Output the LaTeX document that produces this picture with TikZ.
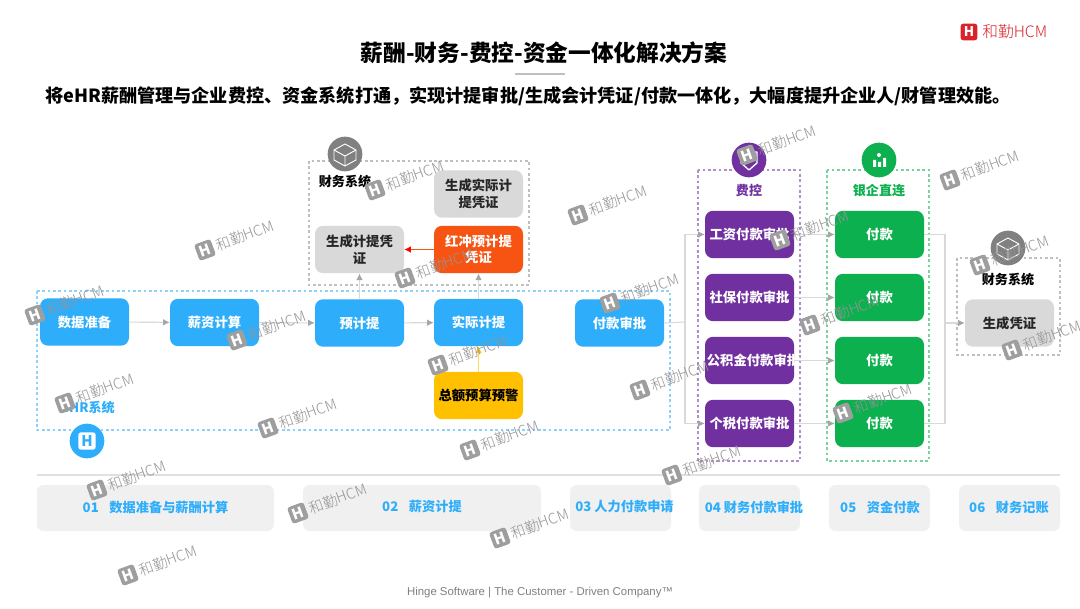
\documentclass[tikz,border=0pt]{standalone}
\usepackage{fontspec}
\setmainfont{Noto Sans CJK SC}
\newfontfamily\latinfoot{Liberation Sans}
\newfontfamily\wmfont{Noto Sans CJK SC Light}
\usetikzlibrary{arrows.meta,calc}
\definecolor{hrblue}{HTML}{2EAEFA}
\definecolor{purplebox}{HTML}{7030A0}
\definecolor{greenbox}{HTML}{0CB04F}
\definecolor{greybox}{HTML}{D9D9D9}
\definecolor{redbox}{HTML}{F75413}
\definecolor{yellowbox}{HTML}{FFC000}
\definecolor{logored}{HTML}{D8232A}
\definecolor{linegrey}{HTML}{D9D9D9}
\definecolor{tipgrey}{HTML}{A6A6A6}
\newcommand{\pxfont}[1]{\fontsize{#1}{\dimexpr #1pt*5/4\relax}\selectfont}
\tikzset{
  flowbox/.style={rounded corners=6pt,minimum width=66.75pt,minimum height=35.5pt,align=center,inner sep=1pt,text width=64pt,font=\pxfont{10}\bfseries},
  bluebox/.style={flowbox,fill=hrblue,text=white},
  purbox/.style={flowbox,fill=purplebox,text=white},
  grnbox/.style={flowbox,fill=greenbox,text=white},
  grybox/.style={flowbox,fill=greybox,text=black!85},
  redfill/.style={flowbox,fill=redbox,text=white},
  ylwbox/.style={flowbox,fill=yellowbox,text=black},
  conn/.style={draw=linegrey,line width=.8pt,-{Latex[length=5pt,width=5pt,color=tipgrey]}},
  plain/.style={draw=linegrey,line width=.8pt},
  dotbox/.style={draw=#1,line width=1pt,dash pattern=on 2pt off 2pt},
  stage/.style={fill=black!6,rounded corners=5pt,minimum height=34.5pt,inner sep=0pt},
  stagetext/.style={text=hrblue,font=\pxfont{9.9}\bfseries,inner sep=0pt},
  badge/.style={circle,minimum size=26pt,inner sep=0pt},
  syslabel/.style={font=\pxfont{9.8}\bfseries,inner sep=0pt},
  wmicon/.style={fill=black!38,rounded corners=2pt,minimum size=13pt,inner sep=0pt,text=white,font=\pxfont{11}\bfseries},
  wmtext/.style={text=black!42,font=\wmfont\pxfont{11},inner sep=0pt,anchor=west},
}
\newcommand{\wmark}[3]{\begin{scope}[shift={(#2,#3)},rotate=20,transform shape]
  \node[wmicon] (#1i) at (0,0) {H};
  \node[wmtext] (#1t) at (12,0) {和勤HCM};
\end{scope}}
\begin{document}
\begin{tikzpicture}[x=.75pt,y=-.75pt]
\useasboundingbox (0,0) rectangle (1080,609);
\fill[white] (0,0) rectangle (1080,609);
% header
\node[font=\pxfont{17}\bfseries,inner sep=0pt] (title) at (544,53) {薪酬-财务-费控-资金一体化解决方案};
\fill[black!25] (515,73) rectangle (565,75.5);
\node[font=\pxfont{13.6}\bfseries,inner sep=0pt] (sub) at (528,96) {将eHR薪酬管理与企业费控、资金系统打通，实现计提审批/生成会计凭证/付款一体化，大幅度提升企业人/财管理效能。};
\node[fill=logored,rounded corners=2pt,minimum size=12.5pt,inner sep=0pt,text=white,font=\pxfont{10}\bfseries] (logoi) at (969,32) {H};
\node[text=logored,font=\wmfont\pxfont{11.8},inner sep=0pt,anchor=west] (logot) at (982,32) {和勤HCM};
% containers
\draw[dotbox=hrblue!55] (37,291) rectangle (670,430);
\draw[dotbox=black!25] (309,161) rectangle (529,285);
\draw[dotbox=purplebox!55] (698,170) rectangle (800,461);
\draw[dotbox=greenbox!55] (827,170) rectangle (929,461);
\draw[dotbox=black!25] (957,258) rectangle (1060,355);
% HR row
\node[bluebox] (data) at (84.5,322) {数据准备};
\node[bluebox] (calc) at (214.5,322.5) {薪资计算};
\node[bluebox] (pre) at (359.5,323) {预计提};
\node[bluebox] (act) at (478.5,322.5) {实际计提};
\node[bluebox] (pay) at (619.5,323) {付款审批};
\node[ylwbox] (bud) at (478.5,395.5) {总额预算预警};
% finance top
\node[grybox] (genact) at (478.5,194) {生成实际计\\提凭证};
\node[grybox] (genpre) at (359.5,249.5) {生成计提凭\\证};
\node[redfill] (rev) at (478.5,249.5) {红冲预计提\\凭证};
% cost control
\node[purbox] (p1) at (749.5,234.5) {工资付款审批};
\node[purbox] (p2) at (749.5,297.5) {社保付款审批};
\node[purbox] (p3) at (749.5,360.5) {公积金付款审批};
\node[purbox] (p4) at (749.5,423.5) {个税付款审批};
% bank
\node[grnbox] (g1) at (879.5,234.5) {付款};
\node[grnbox] (g2) at (879.5,297.5) {付款};
\node[grnbox] (g3) at (879.5,360.5) {付款};
\node[grnbox] (g4) at (879.5,423.5) {付款};
\node[grybox] (voucher) at (1009.5,323) {生成凭证};
% connectors
\draw[conn] (data) -- (calc);
\draw[conn] (calc) -- (pre);
\draw[conn] (pre) -- (act);
\draw[conn] (pre) -- (genpre);
\draw[conn] (act) -- (rev);
\draw[draw=redbox,line width=.8pt,-{Latex[length=5pt,width=5pt,color=red]}] (rev) -- (genpre);
\draw[draw=yellowbox!60,line width=.8pt,-{Latex[length=5pt,width=5pt,color=yellowbox]}] (bud) -- (act);
\coordinate (busa) at (685,322);
\coordinate (busb) at (945,323);
\draw[plain] (pay.east) -- (busa);
\draw[conn] (busa) |- (p1.west);
\draw[conn] (busa) |- (p4.west);
\draw[conn] (p1) -- (g1);
\draw[conn] (p2) -- (g2);
\draw[conn] (p3) -- (g3);
\draw[conn] (p4) -- (g4);
\draw[plain] (g1.east) -| (busb);
\draw[plain] (g4.east) -| (busb);
\draw[conn] (busb) -- (voucher);
% system labels and badges
\node[syslabel] (lfin) at (345,182) {财务系统};
\node[syslabel,text=purplebox] (lcost) at (749,191) {费控};
\node[syslabel,text=greenbox] (lbank) at (879,191) {银企直连};
\node[syslabel] (lfin2) at (1008,280) {财务系统};
\node[syslabel,text=hrblue] (lhr) at (88,408) {eHR系统};
\node[badge,fill=black!50] (bfin) at (345,154) {};
\draw[white,line width=.7pt,line join=round] (345,144) -- (356,150) -- (356,160) -- (345,166) -- (334,160) -- (334,150) -- cycle (334,150) -- (345,156) -- (356,150) (345,156) -- (345,166);
\node[badge,fill=purplebox] (bcost) at (749,160) {};
\draw[white,line width=1pt,line join=round] (741,152) -- (757,152) -- (757,163) -- (749,170) -- (741,163) -- cycle;
\node[badge,fill=greenbox] (bbank) at (879,160) {};
\fill[white] (873,160) rectangle (876,167) (878,162) rectangle (881,167) (883,158) rectangle (886,167);
\fill[white] (879,155) circle (2);
\node[badge,fill=black!50] (bfin2) at (1008,248) {};
\draw[white,line width=.7pt,line join=round] (1008,238) -- (1019,244) -- (1019,254) -- (1008,260) -- (997,254) -- (997,244) -- cycle (997,244) -- (1008,250) -- (1019,244) (1008,250) -- (1008,260);
\node[badge,fill=hrblue] (bhr) at (87,441) {};
\node[fill=white,rounded corners=2pt,minimum size=13pt,inner sep=0pt,text=hrblue,font=\pxfont{11}\bfseries] (bhri) at (87,441) {H};
% stages
\draw[line width=1.6pt,draw=black!12] (37,475) -- (1060,475);
\node[stage,minimum width=177.75pt] (s1) at (155.5,508) {};
\node[stage,minimum width=178.5pt] (s2) at (422,508) {};
\node[stage,minimum width=75.75pt] (s3) at (620.5,508) {};
\node[stage,minimum width=75.75pt] (s4) at (749.5,508) {};
\node[stage,minimum width=75.75pt] (s5) at (879.5,508) {};
\node[stage,minimum width=75.75pt] (s6) at (1009.5,508) {};
\node[stagetext] (t1) at (155.5,507) {01\hspace{8pt}数据准备与薪酬计算};
\node[stagetext] (t2) at (422,507) {02\hspace{8pt}薪资计提};
\node[stagetext] (t3) at (624.5,507) {03 人力付款申请};
\node[stagetext] (t4) at (754,507) {04 财务付款审批};
\node[stagetext] (t5) at (880,507) {05\hspace{8pt}资金付款};
\node[stagetext] (t6) at (1009,507) {06\hspace{8pt}财务记账};
\node[text=black!50,font=\latinfoot\pxfont{8.55},inner sep=0pt] (foot) at (540,593) {Hinge Software | The Customer - Driven Company™};
% watermarks
\wmark{wa}{375}{190}\wmark{wb}{578}{215}\wmark{wc}{205}{250}\wmark{wd}{405}{278}
\wmark{we}{610}{303}\wmark{wf}{35}{315}\wmark{wg}{237}{340}\wmark{wh}{438}{365}
\wmark{wi}{640}{390}\wmark{wj}{65}{403}\wmark{wk}{268}{428}\wmark{wl}{470}{450}
\wmark{wm}{672}{475}\wmark{wn}{97}{490}\wmark{wo}{298}{513}\wmark{wp}{500}{538}
\wmark{wq}{128}{575}\wmark{wr}{747}{155}\wmark{ws}{780}{240}\wmark{wt}{950}{180}
\wmark{wu}{810}{325}\wmark{wv}{843}{413}\wmark{ww}{980}{265}\wmark{wx}{1012}{350}
\end{tikzpicture}
\end{document}
